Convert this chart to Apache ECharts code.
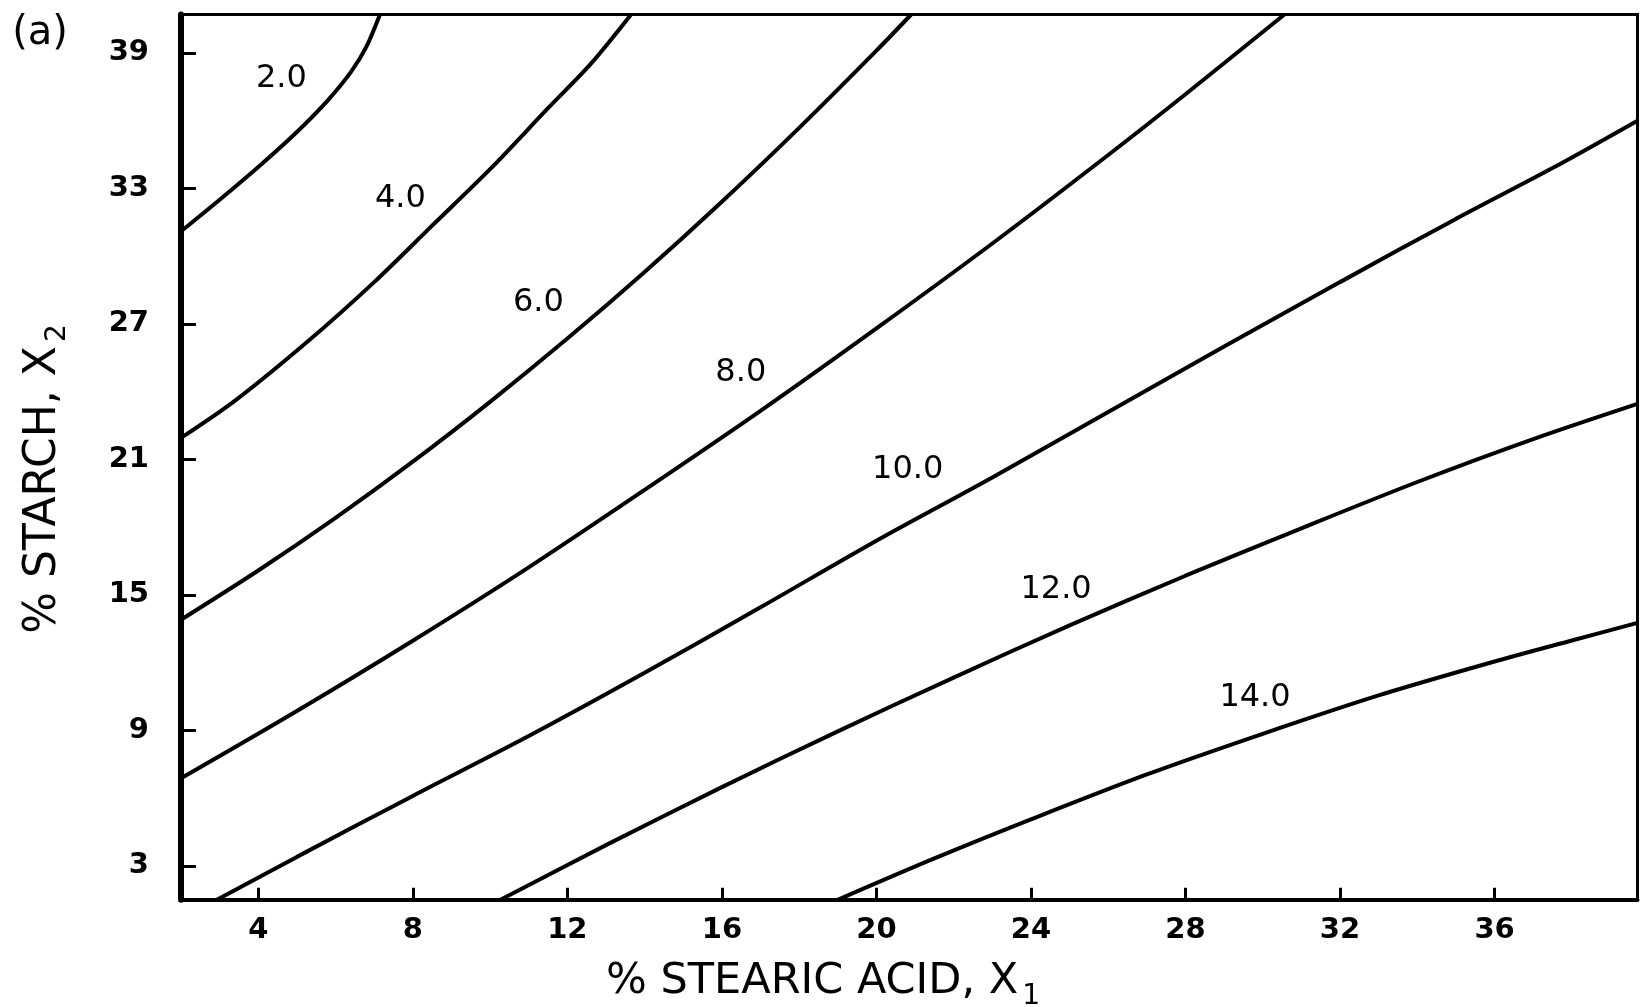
<!DOCTYPE html>
<html>
<head>
<meta charset="utf-8">
<script src="https://cdn.jsdelivr.net/npm/echarts@6/dist/echarts.min.js"></script>
<style>
html,body{margin:0;padding:0;background:#fff;}
#chart{width:1643px;height:1007px;}
</style>
</head>
<body>
<div id="chart"></div>
<script>
// ---- data ----
const xTicks = [4, 8, 12, 16, 20, 24, 28, 32, 36];
const yTicks = [3, 9, 15, 21, 27, 33, 39];
const levelNames = ['2.0', '4.0', '6.0', '8.0', '10.0', '12.0', '14.0'];

const c2  = [[2,31.1],[3,32.5],[4,33.95],[5,35.5],[5.8,36.9],[6.4,38.16],[6.8,39.28],[7.15,40.7]];
const c4  = [[2,21.95],[3.4,23.6],[5.3,26.25],[7.0,28.85],[8.5,31.35],[10.0,33.85],[11.5,36.55],[12.6,38.5],[13.65,40.7]];
const c6  = [[2,13.9],[4,16.08],[6,18.41],[8,20.9],[10,23.55],[12,26.35],[14,29.3],[16,32.41],[18,35.68],[20,39.1],[20.9,40.7]];
const c8  = [[2,6.88],[5,9.86],[8,12.97],[11,16.22],[14,19.65],[17,23.15],[20,26.8],[23,30.56],[26,34.48],[28,37.17],[30.56,40.7]];
const c10 = [[2.93,1.5],[5,3.4],[8,6.1],[11,8.75],[14,11.55],[17,14.45],[20,17.4],[23,20.2],[26,23.1],[29,26.0],[32,28.85],[35,31.65],[37.5,33.9],[39.7,36.0]];
const c12 = [[10.27,1.5],[13,3.92],[16,6.49],[19,8.96],[22,11.34],[25,13.65],[28,15.85],[31,17.95],[34,20.0],[37,21.9],[39.7,23.46]];
const c14 = [[19,1.5],[21.5,3.33],[24,5.06],[27,7.05],[30,8.85],[33,10.55],[36,12.05],[38,12.98],[39.7,13.76]];

const labelX = [4.60, 7.68, 11.25, 16.49, 20.81, 24.65, 29.80];
const labelY = [37.85, 32.54, 27.93, 24.82, 20.54, 15.22, 10.44];

// ---- build options ----
const contours = [c2, c4, c6, c8, c10, c12, c14];
const FONT = 'DejaVu Sans';

const lineSeries = contours.map((pts, i) => ({
  type: 'line',
  name: levelNames[i],
  data: pts,
  showSymbol: false,
  symbol: 'none',
  smooth: 0.3,
  clip: true,
  silent: true,
  animation: false,
  lineStyle: { color: '#000', width: 4 }
}));

const labelSeries = {
  type: 'scatter',
  data: labelX.map((x, i) => ({ value: [x, labelY[i]], name: levelNames[i] })),
  symbolSize: 1,
  itemStyle: { color: 'rgba(0,0,0,0)', opacity: 1 },
  silent: true,
  animation: false,
  label: {
    show: true,
    position: 'inside',
    formatter: p => p.name,
    color: '#000',
    opacity: 1,
    fontFamily: FONT,
    fontSize: 32
  }
};

const chart = echarts.init(document.getElementById('chart'), null, { renderer: 'canvas' });
chart.setOption({
  animation: false,
  backgroundColor: '#fff',
  grid: {
    left: 181, right: 5.5, top: 14.5, bottom: 107.2,
    show: true, borderColor: '#000', borderWidth: 3,
    outerBoundsMode: 'none', containLabel: false
  },
  xAxis: {
    type: 'value', min: 2, max: 39.7,
    splitLine: { show: false },
    axisLine: { show: true, onZero: false, lineStyle: { color: '#000', width: 4 } },
    axisTick: { show: true, inside: true, length: 12, customValues: xTicks, lineStyle: { color: '#000', width: 3 } },
    axisLabel: { show: true, customValues: xTicks, margin: 16, color: '#000', fontFamily: FONT, fontWeight: 'bold', fontSize: 29 }
  },
  yAxis: {
    type: 'value', min: 1.5, max: 40.7,
    splitLine: { show: false },
    axisLine: { show: true, onZero: false, lineStyle: { color: '#000', width: 6 } },
    axisTick: { show: true, inside: true, length: 15, customValues: yTicks, lineStyle: { color: '#000', width: 3 } },
    axisLabel: { show: true, customValues: yTicks, margin: 32, color: '#000', fontFamily: FONT, fontWeight: 'bold', fontSize: 29 }
  },
  graphic: [
    {
      type: 'text', x: 40, y: 34, silent: true,
      style: { text: '(a)', fill: '#000', font: '40px "DejaVu Sans"', textAlign: 'center', textVerticalAlign: 'middle' }
    },
    {
      type: 'text', x: 823, y: 982, silent: true,
      style: {
        text: '{m|% STEARIC ACID, X}{s|1}',
        textAlign: 'center', textVerticalAlign: 'middle',
        rich: {
          m: { fontFamily: FONT, fontSize: 43, fill: '#000', color: '#000' },
          s: { fontFamily: FONT, fontSize: 28, fill: '#000', color: '#000', padding: [30, 0, 0, 4] }
        }
      }
    },
    {
      type: 'text', x: 44, y: 479, rotation: Math.PI / 2, silent: true,
      style: {
        text: '{m|% STARCH, X}{s|2}',
        textAlign: 'center', textVerticalAlign: 'middle',
        rich: {
          m: { fontFamily: FONT, fontSize: 44, fill: '#000', color: '#000' },
          s: { fontFamily: FONT, fontSize: 28, fill: '#000', color: '#000', padding: [28, 0, 0, 4] }
        }
      }
    }
  ],
  series: lineSeries.concat([labelSeries])
});
</script>
</body>
</html>
